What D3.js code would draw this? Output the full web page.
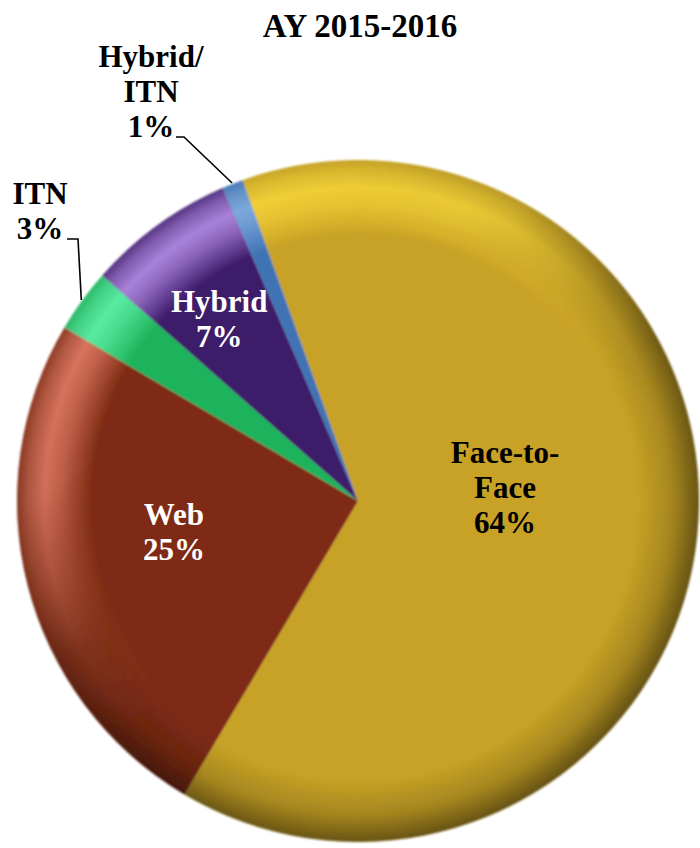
<!DOCTYPE html>
<html>
<head>
<meta charset="utf-8">
<script src="https://cdn.jsdelivr.net/npm/d3@7"></script>
<style>
  html, body { margin: 0; padding: 0; background: #ffffff; }
  svg { display: block; }
  text { font-family: "Liberation Serif", "DejaVu Serif", serif; font-weight: bold; }
</style>
</head>
<body>
<script>
// Course delivery mode shares, academic year 2015-2016
const categories = ["Face-to-Face", "Web", "ITN", "Hybrid", "Hybrid/ITN"];
const shares = [64, 25, 3, 7, 1];
const nameLines = [["Face-to-", "Face"], ["Web"], ["ITN"], ["Hybrid"], ["Hybrid/", "ITN"]];
const baseColors = ["#c8a226", "#7e2c14", "#1fb35b", "#3e1b6a", "#3f73b3"];
const highlightColors = ["#fbd93a", "#e8806a", "#62f6ae", "#b890ea", "#86b2e6"];
const title = "AY 2015-2016";

const W = 700, H = 848;
const cx = 358, cy = 501, R = 341;
const lineGap = 35, capH = 20;
const fontSize = 31;

const svg = d3.select("body").append("svg").attr("width", W).attr("height", H);
const defs = svg.append("defs");

// Title
svg.append("text")
  .attr("x", 360).attr("y", 37)
  .attr("text-anchor", "middle")
  .attr("font-size", 33)
  .attr("fill", "#000")
  .text(title);

const start = -19.8 * Math.PI / 180;
const pie = d3.pie().sort(null).value(d => d)
  .startAngle(start).endAngle(start + 2 * Math.PI);
const arcs = pie(shares);
const arc = d3.arc().innerRadius(0).outerRadius(R);

// Directional masks: light falls from the upper left, shade gathers at lower right
function linGrad(id, x1, y1, x2, y2, stops) {
  const g = defs.append("linearGradient").attr("id", id)
    .attr("x1", x1).attr("y1", y1).attr("x2", x2).attr("y2", y2);
  stops.forEach(s => g.append("stop").attr("offset", s[0]).attr("stop-color", "#fff").attr("stop-opacity", s[1]));
}
linGrad("lightDir", 0.2, 0.0, 0.7, 0.75, [[0, 1], [0.35, 0.9], [0.6, 0.15], [0.75, 0]]);
linGrad("shadeDir", 0.15, 0.05, 0.85, 0.9, [[0, 0.05], [0.35, 0.25], [0.6, 0.9], [1, 1]]);

function mask(id, grad) {
  defs.append("mask").attr("id", id)
    .attr("maskUnits", "userSpaceOnUse")
    .attr("x", -R - 5).attr("y", -R - 5).attr("width", 2 * R + 10).attr("height", 2 * R + 10)
    .append("rect")
    .attr("x", -R).attr("y", -R).attr("width", 2 * R).attr("height", 2 * R)
    .attr("fill", `url(#${grad})`);
}
mask("lightMask", "lightDir");
mask("shadeMask", "shadeDir");

// Rounded-bevel ring gradients per slice
highlightColors.forEach((c, i) => {
  const g = defs.append("radialGradient").attr("id", "hl" + i)
    .attr("gradientUnits", "userSpaceOnUse")
    .attr("cx", 0).attr("cy", 0).attr("r", R);
  [[0, 0], [0.78, 0], [0.87, 0.7], [0.92, 0.95], [0.97, 0.6], [1, 0.25]]
    .forEach(s => g.append("stop").attr("offset", s[0]).attr("stop-color", c).attr("stop-opacity", s[1]));
});
const sg = defs.append("radialGradient").attr("id", "rimShade")
  .attr("gradientUnits", "userSpaceOnUse").attr("cx", 0).attr("cy", 0).attr("r", R);
[[0, 0], [0.82, 0], [0.92, 0.18], [0.97, 0.38], [1, 0.5]]
  .forEach(s => sg.append("stop").attr("offset", s[0]).attr("stop-color", "#000").attr("stop-opacity", s[1]));

defs.append("filter").attr("id", "soft")
  .attr("x", -0.05).attr("y", -0.05).attr("width", 1.1).attr("height", 1.1)
  .append("feGaussianBlur").attr("stdDeviation", 0.8);

const g = svg.append("g").attr("transform", `translate(${cx},${cy})`).attr("filter", "url(#soft)");

g.selectAll("path.slice").data(arcs).join("path")
  .attr("class", "slice")
  .attr("d", arc)
  .attr("fill", (d, i) => baseColors[i]);

g.append("g").attr("mask", "url(#lightMask)")
  .selectAll("path").data(arcs).join("path")
  .attr("d", arc)
  .attr("fill", (d, i) => `url(#hl${i})`);

g.append("circle").attr("r", R).attr("fill", "url(#rimShade)").attr("mask", "url(#shadeMask)");

// Labels inside the larger slices, placed along each slice's mid-angle
const inside = {
  0: { r: 147.6, shift: -10.4, color: "#000" },
  1: { r: 186.7, shift: 4.7, color: "#fff" },
  3: { r: 228.6, shift: -1.4, color: "#fff" }
};
function drawBlock(lines, xMid, yCenter, color) {
  const n = lines.length;
  const first = yCenter - ((n - 1) * lineGap + capH) / 2 + capH;
  lines.forEach((t, k) => {
    svg.append("text")
      .attr("x", xMid).attr("y", first + k * lineGap)
      .attr("text-anchor", "middle")
      .attr("font-size", fontSize)
      .attr("fill", color)
      .text(t);
  });
}
arcs.forEach((d, i) => {
  const cfg = inside[i];
  if (!cfg) return;
  const a = (d.startAngle + d.endAngle) / 2 + cfg.shift * Math.PI / 180;
  drawBlock(nameLines[i].concat([shares[i] + "%"]),
    cx + cfg.r * Math.sin(a), cy - cfg.r * Math.cos(a), cfg.color);
});

// Small slices: label outside with a leader line to the rim
const outside = {
  2: { x: 40, lastBase: 239, tick: [67, 78] },
  4: { x: 151, lastBase: 137, tick: [176, 184] }
};
arcs.forEach((d, i) => {
  const cfg = outside[i];
  if (!cfg) return;
  const lines = nameLines[i].concat([shares[i] + "%"]);
  const n = lines.length;
  lines.forEach((t, k) => {
    svg.append("text")
      .attr("x", cfg.x).attr("y", cfg.lastBase - (n - 1 - k) * lineGap)
      .attr("text-anchor", "middle")
      .attr("font-size", fontSize)
      .attr("fill", "#000")
      .text(t);
  });
  const a = (d.startAngle + d.endAngle) / 2;
  const rx = cx + (R + 1) * Math.sin(a), ry = cy - (R + 1) * Math.cos(a);
  svg.append("path")
    .attr("d", d3.line()([[cfg.tick[0], cfg.lastBase], [cfg.tick[1], cfg.lastBase], [rx, ry]]))
    .attr("fill", "none")
    .attr("stroke", "#000")
    .attr("stroke-width", 1.6);
});
</script>
</body>
</html>
